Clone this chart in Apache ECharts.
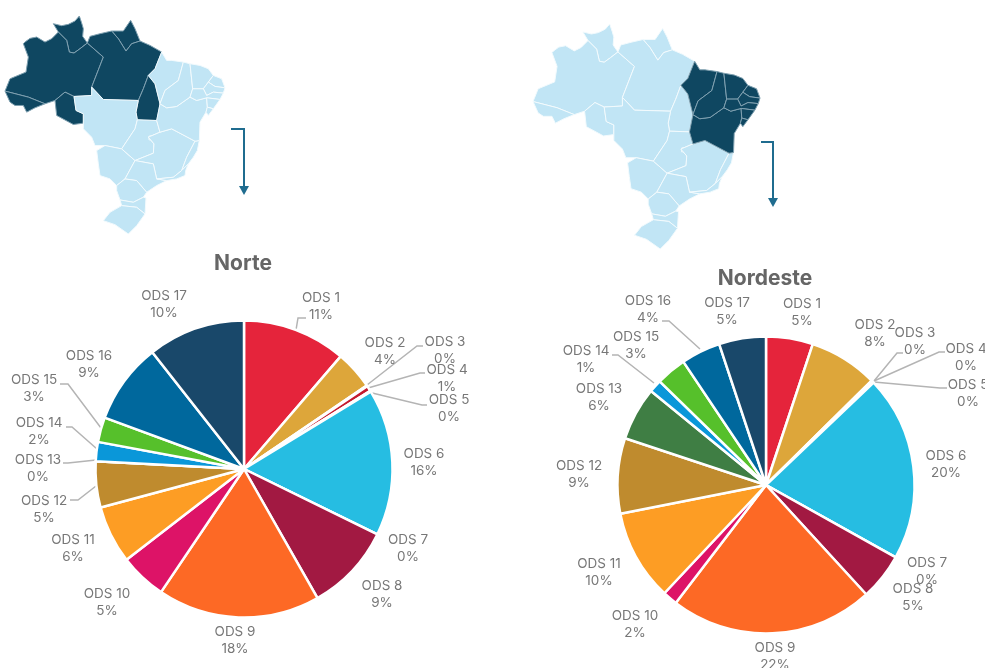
<!DOCTYPE html>
<html>
<head>
<meta charset="utf-8">
<title>ODS Norte e Nordeste</title>
<script src="https://cdn.jsdelivr.net/npm/echarts@6/dist/echarts.min.js"></script>
<style>
  html, body { margin: 0; padding: 0; background: #fff; }
  #chart { width: 985px; height: 668px; }
</style>
</head>
<body>
<div id="chart"></div>
<script>
const categories = ['ODS 1', 'ODS 2', 'ODS 3', 'ODS 4', 'ODS 5', 'ODS 6', 'ODS 7', 'ODS 8', 'ODS 9',
  'ODS 10', 'ODS 11', 'ODS 12', 'ODS 13', 'ODS 14', 'ODS 15', 'ODS 16', 'ODS 17']

// fatia medida na imagem (%)
const norteValues = [11.3, 4.2, 0.1, 0.6, 0.1, 16, 0, 9.5, 17.7, 5.1, 6.3, 5, 0, 2.1, 2.7, 8.8, 10.6]
const nordesteValues = [5.1, 7.5, 0.1, 0.1, 0.1, 20.2, 0, 5.1, 22.2, 1.6, 9.9, 8.2, 5.8, 1.4, 3.3, 4.3, 5.1]

// rótulo impresso (%)
const norteLabels = [11, 4, 0, 1, 0, 16, 0, 9, 18, 5, 6, 5, 0, 2, 3, 9, 10]
const nordesteLabels = [5, 8, 0, 0, 0, 20, 0, 5, 22, 2, 10, 9, 6, 1, 3, 4, 5]

const sliceColors = ['#E5243B', '#DDA63A', '#4C9F38', '#C5192D', '#FF3A21', '#26BDE2', '#FCC30B', '#A21942', '#FD6925',
  '#DD1367', '#FD9D24', '#BF8B2E', '#3F7E44', '#0A97D9', '#56C02B', '#00689D', '#19486A']

const norteLabelPos = [[321, 306], [385, 351], [445, 350], [447, 378], [449, 408], [424, 462], [408, 548], [382, 594], [235, 640],
  [107, 602], [73, 548], [44, 509], [38, 468], [39, 431], [34, 388], [89, 364], [164, 304]]
const nordesteLabelPos = [[802, 312], [875, 333], [915, 341], [966, 357], [968, 393], [946, 464], [927, 571], [913, 597], [775, 656],
  [635, 624], [599, 572], [579, 474], [599, 397], [586, 359], [636, 345], [648, 309], [727, 311]]

// linhas de chamada, por índice da categoria
const norteLeaders = {
  0: [[296, 330], [298, 318], [306, 318]],
  2: [[367, 385], [417, 346], [423, 346]],
  3: [[368, 388], [420, 373], [425, 373]],
  4: [[368, 392], [422, 405], [427, 405]],
  11: [[96, 486], [78, 500], [70, 500]],
  12: [[96, 460], [68, 463], [63, 463]],
  13: [[97, 449], [72, 427], [66, 427]],
  14: [[101, 428], [68, 384], [60, 384]]
}
const nordesteLeaders = {
  2: [[874, 381], [897, 353], [903, 353]],
  3: [[874, 381], [939, 352], [945, 352]],
  4: [[874, 382], [940, 388], [947, 388]],
  13: [[654, 383], [618, 355], [612, 355]],
  15: [[700, 349], [669, 321], [662, 321]]
}

// contorno simplificado dos estados
const states = {
  RR: [[160, 70], [185, 76], [205, 72], [225, 62], [238, 47], [245, 68], [250, 85], [248, 108], [262, 128], [240, 145], [222, 158], [208, 155], [200, 120], [175, 95]],
  AP: [[335, 92], [370, 92], [392, 60], [405, 85], [420, 122], [395, 130], [378, 152], [355, 115]],
  AM: [[75, 125], [90, 114], [110, 110], [135, 125], [155, 115], [175, 95], [200, 120], [208, 155], [222, 158], [240, 145], [262, 128], [310, 170], [275, 260], [275, 285], [222, 288], [195, 275], [165, 300], [135, 310], [85, 290], [15, 272], [30, 235], [78, 215], [85, 170], [70, 130]],
  AC: [[15, 272], [85, 290], [135, 310], [105, 322], [80, 335], [70, 315], [45, 315], [30, 305]],
  RO: [[165, 300], [195, 275], [222, 288], [228, 330], [250, 340], [250, 368], [220, 372], [170, 345]],
  PA: [[262, 128], [270, 108], [300, 100], [335, 92], [355, 115], [378, 152], [395, 130], [420, 122], [450, 135], [485, 155], [465, 205], [445, 225], [430, 265], [415, 300], [310, 297], [275, 260], [310, 170]],
  TO: [[445, 225], [465, 250], [480, 310], [470, 360], [412, 358], [408, 335], [415, 300], [430, 265]],
  MT: [[222, 288], [275, 285], [275, 260], [310, 297], [415, 300], [408, 335], [412, 358], [405, 385], [365, 445], [315, 435], [285, 435], [275, 410], [250, 385], [250, 340], [228, 330]],
  MS: [[290, 450], [315, 435], [365, 445], [405, 480], [375, 535], [350, 555], [330, 535], [300, 525], [295, 490]],
  GO: [[412, 358], [470, 360], [480, 395], [445, 410], [462, 430], [460, 458], [405, 480], [365, 445], [405, 385]],
  DF: [[447, 407], [465, 404], [465, 418], [447, 418]],
  MG: [[480, 395], [515, 385], [585, 422], [560, 470], [545, 510], [520, 530], [470, 535], [460, 490], [405, 480], [460, 458], [462, 430], [445, 410]],
  SP: [[405, 480], [460, 490], [470, 535], [500, 540], [470, 555], [440, 575], [410, 540], [375, 535]],
  PR: [[375, 535], [410, 540], [440, 575], [430, 590], [400, 605], [360, 598], [350, 570], [350, 555]],
  SC: [[360, 598], [400, 605], [430, 590], [438, 592], [435, 640], [410, 620], [365, 615]],
  RS: [[365, 615], [410, 620], [435, 640], [410, 675], [385, 700], [345, 672], [310, 660], [330, 635]],
  ES: [[585, 422], [598, 420], [592, 450], [580, 470], [565, 490], [545, 510], [560, 470]],
  RJ: [[520, 530], [545, 510], [565, 490], [557, 510], [555, 525], [530, 535], [500, 540], [470, 535]],
  BA: [[480, 395], [470, 360], [480, 310], [500, 322], [530, 318], [570, 290], [590, 300], [620, 292], [622, 320], [618, 335], [600, 365], [598, 420], [585, 422], [515, 385]],
  MA: [[485, 155], [500, 180], [515, 180], [550, 185], [535, 240], [495, 270], [480, 310], [465, 250], [445, 225], [465, 205]],
  PI: [[550, 185], [570, 190], [578, 265], [570, 290], [530, 318], [500, 322], [480, 310], [495, 270], [535, 240]],
  CE: [[570, 190], [600, 195], [625, 205], [640, 225], [625, 245], [610, 265], [578, 265]],
  RN: [[640, 225], [665, 235], [675, 262], [645, 258], [625, 245]],
  PB: [[610, 265], [625, 245], [645, 258], [675, 262], [670, 278], [640, 275], [620, 285]],
  PE: [[578, 265], [610, 265], [620, 285], [640, 275], [670, 278], [660, 297], [620, 292], [590, 300], [570, 290]],
  AL: [[620, 292], [660, 297], [640, 325], [622, 320]],
  SE: [[622, 320], [640, 325], [625, 345], [618, 335]]
}
const norteStates = ['RR', 'AP', 'AM', 'AC', 'RO', 'PA', 'TO']
const nordesteStates = ['MA', 'PI', 'CE', 'RN', 'PB', 'PE', 'AL', 'SE', 'BA']

const buildGeoJson = () => ({
  type: 'FeatureCollection',
  features: Object.keys(states).map((name) => ({
    type: 'Feature',
    properties: { name },
    geometry: { type: 'Polygon', coordinates: [[...states[name], states[name][0]]] }
  }))
})
echarts.registerMap('brasilNorte', buildGeoJson())
echarts.registerMap('brasilNordeste', buildGeoJson())

const flatProjection = { project: (p) => p, unproject: (p) => p }

const mapSeries = (mapName, highlighted, box) => ({
  type: 'map',
  map: mapName,
  projection: flatProjection,
  ...box,
  roam: false,
  silent: true,
  selectedMode: false,
  label: { show: false },
  emphasis: { disabled: true },
  data: Object.keys(states).map((name) => {
    const on = highlighted.includes(name)
    return {
      name,
      itemStyle: {
        areaColor: on ? '#0F4761' : '#C1E5F5',
        borderColor: on ? '#7FA0B0' : '#F2FAFD',
        borderWidth: 1
      }
    }
  })
})

const pieSeries = (center, values, labels, labelPos, leaders) => ({
  type: 'pie',
  center,
  radius: [0, 148.5],
  startAngle: 90,
  avoidLabelOverlap: false,
  minShowLabelAngle: 0,
  silent: true,
  itemStyle: { borderColor: '#fff', borderWidth: 2.5 },
  label: {
    show: true,
    position: 'outside',
    fontFamily: 'Inter, "Liberation Sans", sans-serif',
    fontSize: 13.5,
    lineHeight: 17,
    color: '#777777',
    formatter: (p) => p.name + '\n' + labels[p.dataIndex] + '%'
  },
  labelLine: { lineStyle: { color: '#B4B4B4', width: 1.5 } },
  labelLayout: (p) => ({
    x: labelPos[p.dataIndex][0],
    y: labelPos[p.dataIndex][1],
    align: 'center',
    verticalAlign: 'middle',
    labelLinePoints: leaders[p.dataIndex]
  }),
  data: categories.map((name, i) => ({
    name,
    value: values[i],
    itemStyle: { color: sliceColors[i] },
    labelLine: { show: !!leaders[i] }
  }))
})

const arrow = (points, head) => [
  {
    type: 'polyline',
    silent: true,
    shape: { points },
    style: { stroke: '#1F6C8F', lineWidth: 2, fill: null }
  },
  {
    type: 'polygon',
    silent: true,
    shape: { points: head },
    style: { fill: '#1F6C8F' }
  }
]

const titleStyle = {
  fontFamily: 'Inter, "Liberation Sans", sans-serif',
  fontSize: 21,
  fontWeight: 'bold',
  color: '#666666'
}

const chart = echarts.init(document.getElementById('chart'))
chart.setOption({
  animation: false,
  title: [
    { text: 'Norte', left: 243, top: 264, padding: 0, textAlign: 'center', textVerticalAlign: 'middle', textStyle: titleStyle },
    { text: 'Nordeste', left: 765, top: 279, padding: 0, textAlign: 'center', textVerticalAlign: 'middle', textStyle: titleStyle }
  ],
  graphic: [
    ...arrow([[231, 129], [244, 129], [244, 187]], [[239, 186], [249, 186], [244, 195]]),
    ...arrow([[761, 142], [773, 142], [773, 199]], [[768, 198], [778, 198], [773, 207]])
  ],
  series: [
    mapSeries('brasilNorte', norteStates, { left: 5, top: 16, width: 220, height: 218 }),
    mapSeries('brasilNordeste', nordesteStates, { left: 533, top: 24, width: 227, height: 225 }),
    pieSeries([244, 469], norteValues, norteLabels, norteLabelPos, norteLeaders),
    pieSeries([766, 485], nordesteValues, nordesteLabels, nordesteLabelPos, nordesteLeaders)
  ]
})
</script>
</body>
</html>
